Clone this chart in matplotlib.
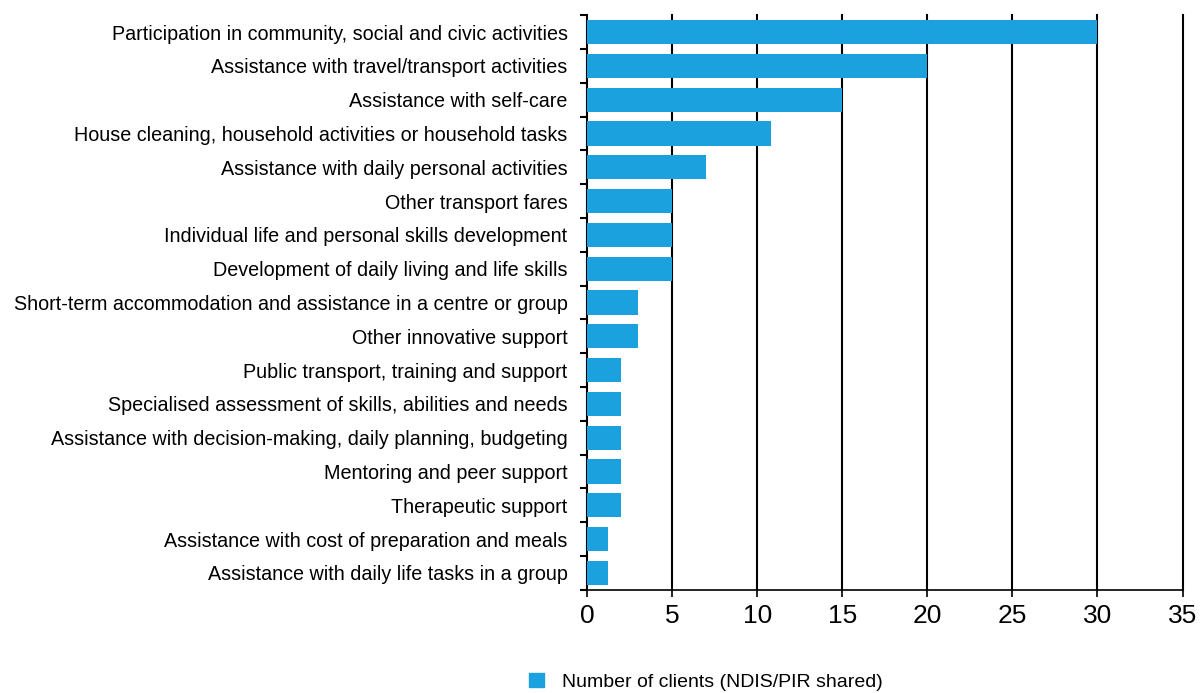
import numpy as np
import matplotlib.pyplot as plt
from matplotlib.patches import Patch

plt.rcParams['font.family'] = ['Liberation Sans', 'DejaVu Sans']

categories = [
    "Participation in community, social and civic activities",
    "Assistance with travel/transport activities",
    "Assistance with self-care",
    "House cleaning, household activities or household tasks",
    "Assistance with daily personal activities",
    "Other transport fares",
    "Individual life and personal skills development",
    "Development of daily living and life skills",
    "Short-term accommodation and assistance in a centre or group",
    "Other innovative support",
    "Public transport, training and support",
    "Specialised assessment of skills, abilities and needs",
    "Assistance with decision-making, daily planning, budgeting",
    "Mentoring and peer support",
    "Therapeutic support",
    "Assistance with cost of preparation and meals",
    "Assistance with daily life tasks in a group",
]
clients = [30, 20, 15, 10.8, 7, 5, 5, 5, 3, 3, 2, 2, 2, 2, 2, 1.25, 1.25]
xticks = [0, 5, 10, 15, 20, 25, 30, 35]

blue = '#1ba1de'

fig = plt.figure(figsize=(12.03, 6.93), dpi=100)
ax = fig.add_axes([0.488, 0.149, 0.495, 0.829])

y = np.arange(len(categories))
ax.barh(y, clients, height=0.72, color=blue, zorder=3)
ax.set_ylim(len(categories) - 0.5, -0.5)
ax.set_xlim(0, 35)

# vertical grid lines
for xv in xticks[1:]:
    ax.axvline(xv, color='black', lw=1.5, zorder=2, clip_on=False)

ax.set_xticks(xticks)
ax.set_xticklabels([str(v) for v in xticks], fontsize=19)
ax.tick_params(axis='x', length=5, width=1.2, pad=5)

ax.set_yticks(y)
ax.set_yticklabels(categories, fontsize=14.2)
ax.tick_params(axis='y', which='major', length=0, pad=14)
ax.set_yticks(np.arange(len(categories) + 1) - 0.5, minor=True)
ax.tick_params(axis='y', which='minor', length=5, width=1.5)

for s in ['top', 'right']:
    ax.spines[s].set_visible(False)
ax.spines['left'].set_linewidth(1.5)
ax.spines['bottom'].set_linewidth(1.2)

fig.legend(handles=[Patch(color=blue, label='Number of clients (NDIS/PIR shared)')],
           loc='lower left', bbox_to_anchor=(0.425, -0.022), frameon=False,
           fontsize=14, handlelength=0.8, handleheight=0.8, handletextpad=0.9)

fig.savefig('out.png', dpi=100)
